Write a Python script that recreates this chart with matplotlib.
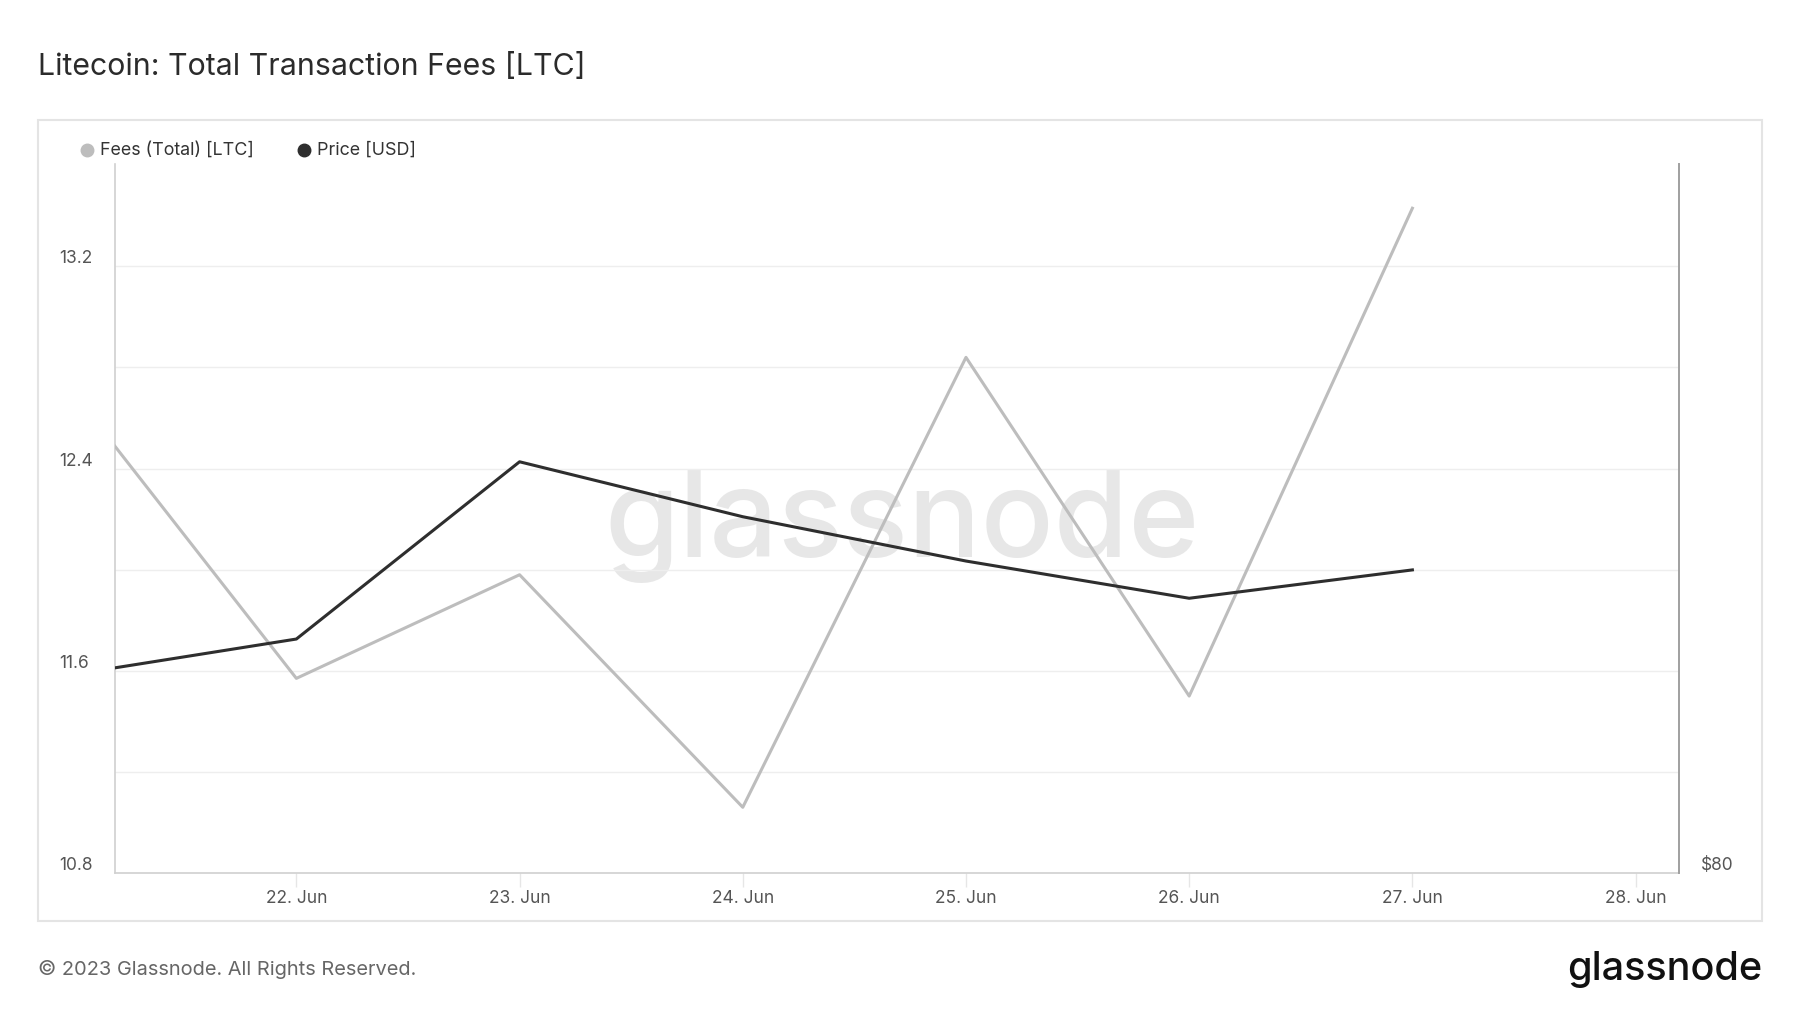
import matplotlib
matplotlib.use("Agg")
import matplotlib.pyplot as plt
import matplotlib.dates as mdates
from matplotlib.patches import Rectangle
from matplotlib.transforms import ScaledTranslation
import pandas as pd

plt.rcParams['font.family'] = ['Inter', 'DejaVu Sans']

# ---- data ----
dates = pd.to_datetime(["2023-06-21", "2023-06-22", "2023-06-23", "2023-06-24",
                        "2023-06-25", "2023-06-26", "2023-06-27"])
fees_ltc = [12.70, 11.57, 11.98, 11.06, 12.84, 11.50, 13.43]
price_usd = [85.6, 86.6, 91.6, 90.05, 88.8, 87.75, 88.55]
fee_ticks = [10.8, 11.6, 12.4, 13.2]
fee_grid = [10.8, 11.2, 11.6, 12.0, 12.4, 12.8, 13.2]
price_ticks = [80]
x_start = pd.Timestamp("2023-06-21 04:30")
x_end = pd.Timestamp("2023-06-28 04:40")
title = "Litecoin: Total Transaction Fees [LTC]"
legend_labels = ["Fees (Total) [LTC]", "Price [USD]"]

fee_color = "#bdbdbd"
price_color = "#2e2e2e"

W, H = 1800, 1013
fig = plt.figure(figsize=(W / 100, H / 100), dpi=100)

def fx(px):
    return px / W

def fy(py):
    return 1 - py / H

# panel box
panel = Rectangle((fx(38), fy(921)), fx(1762) - fx(38), fy(120) - fy(921),
                  transform=fig.transFigure, facecolor="white",
                  edgecolor="#e4e4e4", linewidth=1.5, zorder=-10)
fig.add_artist(panel)

ax = fig.add_axes([fx(115), fy(873), fx(1679) - fx(115), fy(164) - fy(873)])
ax.set_facecolor("none")
ax2 = ax.twinx()
ax2.set_facecolor("none")

# watermark
ax.text(0.503, 0.49, "glassnode", transform=ax.transAxes, ha="center", va="center",
        fontsize=87, color="#e7e7e7", fontweight="medium", zorder=0)

ax.plot(dates, fees_ltc, color=fee_color, lw=2.2, zorder=3)
ax2.plot(dates, price_usd, color=price_color, lw=2.2, zorder=4)

ax.set_xlim(x_start, x_end)
ax.set_ylim(10.8, 13.605)
ax2.set_ylim(80, 100)

for g in fee_grid:
    ax.axhline(g, color="#eeeeee", lw=1, zorder=1)

ax.set_yticks(fee_ticks)
ax.set_yticklabels([f"{v:.1f}" for v in fee_ticks])
ax.tick_params(axis="y", length=0, pad=22, labelsize=12.5, labelcolor="#555555")
for lab in ax.get_yticklabels():
    lab.set_va("bottom")
    lab.set_ha("left")
    lab.set_transform(lab.get_transform() + ScaledTranslation(-0.25, -0.01, fig.dpi_scale_trans))

ax2.set_yticks(price_ticks)
ax2.set_yticklabels([f"${v}" for v in price_ticks])
ax2.tick_params(axis="y", length=0, pad=15.5, labelsize=12.5, labelcolor="#555555")
for lab in ax2.get_yticklabels():
    lab.set_va("bottom")
    lab.set_transform(lab.get_transform() + ScaledTranslation(0, -0.01, fig.dpi_scale_trans))

ax.xaxis.set_major_locator(mdates.DayLocator())
ax.xaxis.set_major_formatter(mdates.DateFormatter("%d. %b"))
ax.tick_params(axis="x", length=10, width=1, color="#e6e6e6", pad=2.5,
               labelsize=12.5, labelcolor="#555555")

for a in (ax, ax2):
    a.spines["top"].set_visible(False)
ax.spines["left"].set_color("#d0d0d0")
ax.spines["left"].set_linewidth(1.2)
ax.spines["bottom"].set_color("#d0d0d0")
ax.spines["bottom"].set_linewidth(1.2)
ax.spines["right"].set_visible(False)
ax2.spines["left"].set_visible(False)
ax2.spines["bottom"].set_visible(False)
ax2.spines["right"].set_color("#a0a0a0")
ax2.spines["right"].set_linewidth(1.4)

# legend
leg_y = fy(150)
fig.add_artist(plt.Line2D([fx(87)], [leg_y], marker="o", markersize=9, color=fee_color,
                          transform=fig.transFigure))
fig.text(fx(100), leg_y, legend_labels[0], fontsize=12.9, color="#333333", va="center")
fig.add_artist(plt.Line2D([fx(304)], [leg_y], marker="o", markersize=9, color=price_color,
                          transform=fig.transFigure))
fig.text(fx(317), leg_y, legend_labels[1], fontsize=12.9, color="#333333", va="center")

# title & footer
fig.text(fx(38), fy(67), title, fontsize=21.8, color="#2b2b2b", va="center")
fig.text(fx(38), fy(969), "© 2023 Glassnode. All Rights Reserved.", fontsize=14.4,
         color="#666666", va="center")
fig.text(fx(1762), fy(969), "glassnode", fontsize=28.5, color="#111111", va="center",
         ha="right", fontweight="medium")

fig.savefig("out.png", dpi=100, facecolor="white")
